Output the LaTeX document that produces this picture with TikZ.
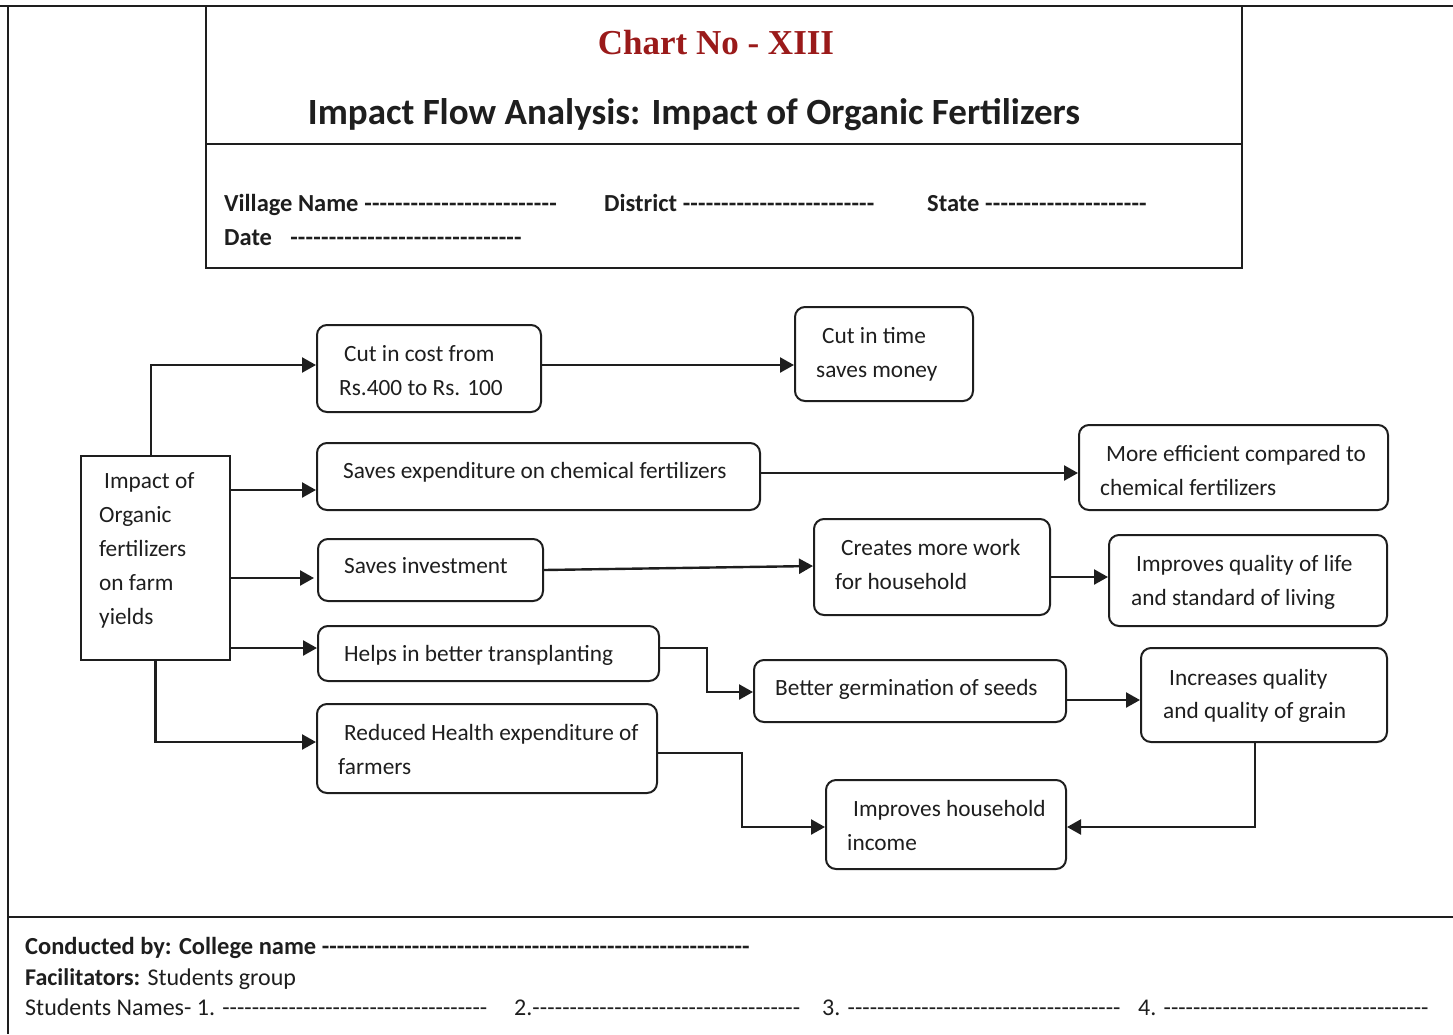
\documentclass[tikz,border=0pt]{standalone}
\usepackage{fontspec}
\setmainfont{Carlito}
\newfontfamily\titleserif{Liberation Serif}
\usetikzlibrary{arrows.meta,calc}
\definecolor{ink}{HTML}{1E1E1E}
\definecolor{chartred}{HTML}{9A1A1A}
\newcommand{\dashfill}[1]{\hbox to #1{\xleaders\hbox{-}\hfill}}
\tikzset{
  frame/.style={line width=1.8pt, draw=ink},
  box/.style={draw=ink, line width=2pt, rounded corners=10pt, inner sep=0pt},
  sqbox/.style={draw=ink, line width=2pt, inner sep=0pt},
  arr/.style={draw=ink, line width=2.4pt, -{Triangle[length=14pt,width=15pt]}},
  txt/.style={anchor=base west, inner sep=0pt, text=ink, font=\fontsize{23.3}{28}\selectfont},
  lbl/.style={anchor=base west, inner sep=0pt, text=ink, font=\fontsize{24}{28}\selectfont},
  blbl/.style={anchor=base west, inner sep=0pt, text=ink, font=\bfseries\fontsize{24.5}{28}\selectfont},
}
\begin{document}
\begin{tikzpicture}[x=1pt,y=-1pt]
\useasboundingbox (0,0) rectangle (1453,1034);
% outer frame
\draw[frame] (0,6) -- (1453,6);
\draw[frame] (8,6) -- (8,1034);
\draw[frame] (8,917) -- (1453,917);
% header box
\draw[frame] (206,6) rectangle (1242,268);
\draw[frame] (206,144) -- (1242,144);
\node[anchor=base, inner sep=0pt, text=chartred, font=\titleserif\bfseries\fontsize{35}{40}\selectfont] (chart) at (716,54) {Chart No - XIII};
\node[anchor=base, inner sep=0pt, text=ink, font=\bfseries\fontsize{37}{42}\selectfont] (title) at (694,124) {Impact Flow Analysis: Impact of Organic Fertilizers};
\node[blbl] (village) at (224,211) {Village Name \dashfill{193pt}};
\node[blbl] (district) at (604,211) {District \dashfill{192pt}};
\node[blbl] (state) at (927,211) {State \dashfill{162pt}};
\node[blbl] (date) at (224,245) {Date\hspace{18pt}\dashfill{232pt}};
% boxes
\node[sqbox, minimum width=149pt, minimum height=204pt] (imp) at (155.5,558) {};
\node[box, minimum width=224pt, minimum height=87pt] (cut) at (429,368.5) {};
\node[box, minimum width=178pt, minimum height=94pt] (time) at (884,354) {};
\node[box, minimum width=443pt, minimum height=67pt] (sav) at (538.5,476.5) {};
\node[box, minimum width=309pt, minimum height=85pt] (eff) at (1233.5,467.5) {};
\node[box, minimum width=225pt, minimum height=62pt] (inv) at (430.5,570) {};
\node[box, minimum width=236pt, minimum height=96pt] (work) at (932,567) {};
\node[box, minimum width=278pt, minimum height=91pt] (life) at (1248,580.5) {};
\node[box, minimum width=341pt, minimum height=55pt] (trans) at (488.5,653.5) {};
\node[box, minimum width=312pt, minimum height=62pt] (germ) at (910,691) {};
\node[box, minimum width=246pt, minimum height=94pt] (grain) at (1264,695) {};
\node[box, minimum width=340pt, minimum height=89pt] (health) at (487,748.5) {};
\node[box, minimum width=240pt, minimum height=89pt] (income) at (946,824.5) {};
% texts
\node[txt] (imp1) at (104,488) {Impact of};
\node[txt] (imp2) at (99,522) {Organic};
\node[txt] (imp3) at (99,556) {fertilizers};
\node[txt] (imp4) at (99,590) {on farm};
\node[txt] (imp5) at (99,624) {yields};
\node[txt] (cut1) at (344,361) {Cut in cost from};
\node[txt] (cut2) at (339,395) {Rs.400 to Rs. 100};
\node[txt] (time1) at (822,343) {Cut in time};
\node[txt] (time2) at (816,377) {saves money};
\node[txt] (sav1) at (343,478) {Saves expenditure on chemical fertilizers};
\node[txt] (eff1) at (1106,461) {More efficient compared to};
\node[txt] (eff2) at (1100,495) {chemical fertilizers};
\node[txt] (inv1) at (344,573) {Saves investment};
\node[txt] (work1) at (841,555) {Creates more work};
\node[txt] (work2) at (835,589) {for household};
\node[txt] (life1) at (1136,571) {Improves quality of life};
\node[txt] (life2) at (1131,605) {and standard of living};
\node[txt] (trans1) at (344,661) {Helps in better transplanting};
\node[txt] (germ1) at (775,695) {Better germination of seeds};
\node[txt] (grain1) at (1169,685) {Increases quality};
\node[txt] (grain2) at (1163,718) {and quality of grain};
\node[txt] (health1) at (344,740) {Reduced Health expenditure of};
\node[txt] (health2) at (338,774) {farmers};
\node[txt] (inc1) at (853,816) {Improves household};
\node[txt] (inc2) at (847,850) {income};
% connectors
\draw[arr] ([xshift=-4.5pt]imp.north) |- (cut.west |- {0,365});
\draw[arr] (cut.east |- {0,365}) -- (time.west |- {0,365});
\draw[arr] (imp.east |- {0,490}) -- (sav.west |- {0,490});
\draw[arr] (sav.east |- {0,473}) -- (eff.west |- {0,473});
\draw[arr] ([xshift=-2pt]imp.east |- {0,578}) -- ([xshift=-3pt]inv.west |- {0,578});
\draw[arr] (inv.east |- {0,570}) -- (work.west |- {0,566});
\draw[arr] (work.east |- {0,577}) -- (life.west |- {0,577});
\draw[arr] (imp.east |- {0,648}) -- (trans.west |- {0,648});
\draw[arr] (trans.east |- {0,648}) -| (707,692) -- (germ.west |- {0,692});
\draw[arr] (germ.east |- {0,700}) -- (grain.west |- {0,700});
\draw[arr] (imp.south) |- (health.west |- {0,742});
\draw[arr] (health.east |- {0,753}) -| (742,827) -- (income.west |- {0,827});
\draw[arr] ([xshift=-9pt]grain.south) |- (income.east |- {0,827});
% footer
\node[blbl] (cond) at (25,954) {Conducted by: College name \dashfill{428pt}};
\node[lbl] (fac) at (25,985) {\textbf{Facilitators:} Students group};
\node[lbl] (stud) at (25,1015) {Students Names- 1. \dashfill{265pt}};
\node[lbl] (s2) at (514,1015) {2.\dashfill{268pt}};
\node[lbl] (s3) at (822,1015) {3. \dashfill{273pt}};
\node[lbl] (s4) at (1138,1015) {4. \dashfill{265pt}};
\end{tikzpicture}
\end{document}
